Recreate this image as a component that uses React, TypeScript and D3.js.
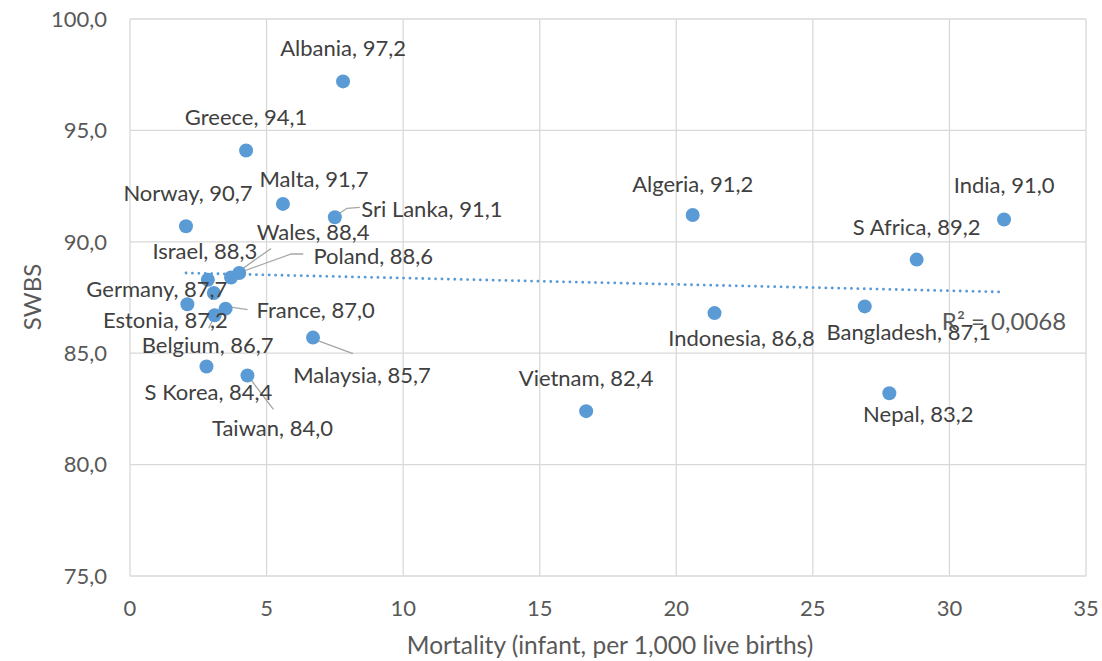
import React from "react";
import * as d3 from "d3";

// country data
const countries = [
  "Albania", "Greece", "Malta", "Sri Lanka", "Norway", "Wales", "Israel", "Poland",
  "Germany", "France", "Estonia", "Belgium", "S Korea", "Taiwan", "Malaysia",
  "Vietnam", "Algeria", "Indonesia", "India", "S Africa", "Bangladesh", "Nepal",
];
const mortality = [
  7.8, 4.25, 5.6, 7.5, 2.05, 3.7, 2.85, 4.0,
  3.07, 3.5, 2.1, 3.1, 2.8, 4.3, 6.7,
  16.7, 20.6, 21.4, 32.0, 28.8, 26.9, 27.8,
];
const swbs = [
  97.2, 94.1, 91.7, 91.1, 90.7, 88.4, 88.3, 88.6,
  87.7, 87.0, 87.2, 86.7, 84.4, 84.0, 85.7,
  82.4, 91.2, 86.8, 91.0, 89.2, 87.1, 83.2,
];
const xTicks = [0, 5, 10, 15, 20, 25, 30, 35];
const yTicks = [75, 80, 85, 90, 95, 100];
const r2Text = "R² = 0,0068";

// label placement (pixel offset of label centre from its dot) and leader lines
const labelLayout: Record<string, { dx: number; dy: number; leader?: [number, number][] }> = {
  "Albania": { dx: 0, dy: -33 },
  "Greece": { dx: 0, dy: -33 },
  "Malta": { dx: 31, dy: -25 },
  "Sri Lanka": { dx: 97, dy: -8, leader: [[2, -2], [12, -9], [25, -10]] },
  "Norway": { dx: 2, dy: -33 },
  "Wales": { dx: 82, dy: -45, leader: [[2, -2], [40, -29]] },
  "Israel": { dx: -3, dy: -28 },
  "Poland": { dx: 134, dy: -17, leader: [[-1, 0], [52, -19], [64, -19]] },
  "Germany": { dx: -57, dy: -4 },
  "France": { dx: 90, dy: 2, leader: [[2, -2], [22, 1]] },
  "Estonia": { dx: -22, dy: 16 },
  "Belgium": { dx: -7, dy: 30, leader: [[-1, 3], [-6, 13]] },
  "S Korea": { dx: 2, dy: 26 },
  "Taiwan": { dx: 25, dy: 53, leader: [[1, 1], [26, 34]] },
  "Malaysia": { dx: 49, dy: 38, leader: [[2, 2], [40, 16]] },
  "Vietnam": { dx: 0, dy: -33 },
  "Algeria": { dx: 0, dy: -31 },
  "Indonesia": { dx: 27, dy: 25 },
  "India": { dx: 0, dy: -34 },
  "S Africa": { dx: 0, dy: -32 },
  "Bangladesh": { dx: 44, dy: 26 },
  "Nepal": { dx: 29, dy: 21 },
};

const W = 1102;
const H = 661;
const margin = { left: 130, right: 16, top: 19, bottom: 85 };
const font = "Lato, 'Open Sans', sans-serif";
const blue = "#5B9BD5";

const fmt = (v: number) => v.toFixed(1).replace(".", ",");

export default function App() {
  const x = d3.scaleLinear().domain([0, 35]).range([margin.left, W - margin.right]);
  const y = d3.scaleLinear().domain([75, 100]).range([H - margin.bottom, margin.top]);

  // linear least squares trendline
  const mx = d3.mean(mortality)!;
  const my = d3.mean(swbs)!;
  const slope =
    d3.sum(mortality.map((v, i) => (v - mx) * (swbs[i] - my))) /
    d3.sum(mortality.map((v) => (v - mx) ** 2));
  const icpt = my - slope * mx;
  const [x0, x1] = d3.extent(mortality) as [number, number];
  const trend = d3.line<number>().x((d) => x(d)).y((d) => y(icpt + slope * d))([x0, x1]);

  return (
    <svg width={W} height={H} style={{ position: "absolute", left: 0, top: 0, background: "#fff" }} fontFamily={font}>
      {yTicks.map((t) => (
        <line key={"gy" + t} x1={x(0)} x2={x(35)} y1={y(t)} y2={y(t)} stroke="#d9d9d9" strokeWidth={1.3} />
      ))}
      {xTicks.map((t) => (
        <line key={"gx" + t} x1={x(t)} x2={x(t)} y1={y(75)} y2={y(100)} stroke="#d9d9d9" strokeWidth={1.3} />
      ))}
      {yTicks.map((t) => (
        <text key={"ty" + t} x={107} y={y(t)} dy="0.35em" textAnchor="end" fontSize={22} fill="#595959">
          {fmt(t)}
        </text>
      ))}
      {xTicks.map((t) => (
        <text key={"tx" + t} x={x(t)} y={608} dy="0.35em" textAnchor="middle" fontSize={22} fill="#595959">
          {t}
        </text>
      ))}
      <text x={610} y={645} dy="0.35em" textAnchor="middle" fontSize={24.5} fill="#595959">
        Mortality (infant, per 1,000 live births)
      </text>
      <text transform="translate(33,297) rotate(-90)" dy="0.35em" textAnchor="middle" fontSize={24} fill="#595959">
        SWBS
      </text>

      <path d={trend ?? ""} fill="none" stroke={blue} strokeWidth={2.8} strokeDasharray="0.1 6.3" strokeLinecap="round" />

      {countries.map((c, i) => {
        const lay = labelLayout[c];
        if (!lay.leader) return null;
        const cx = x(mortality[i]);
        const cy = y(swbs[i]);
        const pts = lay.leader.map(([a, b]) => [cx + a, cy + b] as [number, number]);
        return <path key={"l" + c} d={d3.line()(pts) ?? ""} fill="none" stroke="#a6a6a6" strokeWidth={1.3} />;
      })}

      {countries.map((c, i) => (
        <circle key={"p" + c} cx={x(mortality[i])} cy={y(swbs[i])} r={7} fill={blue} />
      ))}

      {countries.map((c, i) => {
        const lay = labelLayout[c];
        return (
          <text
            key={"t" + c}
            x={x(mortality[i]) + lay.dx}
            y={y(swbs[i]) + lay.dy}
            dy="0.35em"
            textAnchor="middle"
            fontSize={22}
            fill="#404040"
          >
            {c}, {fmt(swbs[i])}
          </text>
        );
      })}
      <text x={1004} y={322} dy="0.35em" textAnchor="middle" fontSize={24} fill="#595959">
        {r2Text}
      </text>
    </svg>
  );
}
